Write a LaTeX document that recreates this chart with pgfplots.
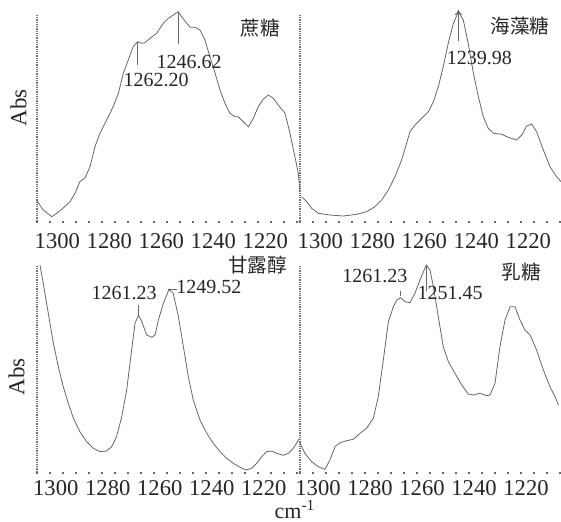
\documentclass[border=0pt]{standalone}
\usepackage{fontspec}
\setmainfont{Liberation Serif}
\newfontfamily\cjk{Noto Sans CJK SC}
\usepackage{pgfplots}
\pgfplotsset{compat=1.18}
\usetikzlibrary{arrows.meta}
\colorlet{txt}{black!85}
\colorlet{crv}{black!60}
\tikzset{
  ann/.style={font=\fontsize{10}{12}\selectfont, text=txt, inner sep=0pt},
  cj/.style={font=\cjk\fontsize{9.8}{12}\selectfont, text=txt, inner sep=0pt},
}
\pgfplotsset{
  ir/.style={
    scale only axis, width=130pt, clip=false,
    x dir=reverse,
    axis x line*=bottom, axis y line*=left,
    x axis line style={draw=none},
    y axis line style={draw=black!55, line width=0.6pt, dash pattern=on 0.45pt off 0.45pt},
    ytick=\empty,
    xtick={1300,1280,1260,1240,1220},
    major tick length=0pt,
    minor tick length=0.8pt,
    tick align=outside,
    minor tick style={draw=black!60, line width=0.8pt},
    xticklabel style={anchor=north west, inner sep=0pt, xshift=-2.5pt, font=\fontsize{11.3}{13}\selectfont, text=txt},
    /pgf/number format/assume math mode=true,
    /pgf/number format/1000 sep={},
    ylabel={Abs},
    ylabel style={font=\fontsize{11.5}{13}\selectfont, text=txt, anchor=center},
    cycle list={{draw=crv, line width=0.5pt, no marks}},
  },
}
\begin{document}
\begin{tikzpicture}
\path[use as bounding box] (0,0) rectangle (280.5pt,260.5pt);

% ---------- top left: sucrose
\begin{axis}[ir, at={(18.5pt,150pt)}, anchor=south west, height=103pt,
  xmin=1200.9, xmax=1300.9, ymin=0, ymax=206,
  minor xtick={1200.9,1205.9,...,1300.9},
  xticklabel style={yshift=-6pt},
  ylabel style={at={(axis description cs:-0.071,0.55)}}]
\addplot coordinates {(1300.9,20) (1298.5,11) (1295.2,4.3) (1293.3,7.7) (1291.4,11.7) (1288.2,19.3) (1286.3,27.7) (1284.4,39.3) (1282.4,43.3) (1280.5,54.3) (1278.6,74.3) (1276.7,87.7) (1274.1,101) (1271.6,114.3) (1269.6,127.7) (1267.7,147.7) (1265.8,161) (1263.9,174.3) (1262.2,179.3) (1260.6,177.7) (1259.4,178.3) (1257.4,182.7) (1254.9,187.7) (1252.3,197.7) (1250.4,202.7) (1248.5,206) (1246.62,209.3) (1245.25,204.3) (1243.3,197.7) (1242.0,193.7) (1240.1,193.7) (1238.2,191) (1236.3,181) (1234.4,164.3) (1232.4,147.7) (1230.5,131) (1228.6,117.7) (1226.7,107.7) (1224.8,104.3) (1223.5,104.3) (1221.6,99.3) (1219.6,94.3) (1217.7,102.7) (1215.8,114.3) (1213.9,121.7) (1211.9,126) (1210.0,122.7) (1208.1,116) (1205.5,107.7) (1203.6,87.7) (1201.7,64.3) (1200.4,47.7) (1199.8,31)};
\draw[crv, line width=0.5pt] (axis cs:1262.2,179.3) -- (axis cs:1262.2,156);
\draw[crv, line width=0.5pt] (axis cs:1246.62,209.3) -- (axis cs:1246.62,177);
\node[ann] at (axis cs:1255.1,141.5) {1262.20};
\node[ann] at (axis cs:1242.4,158.5) {1246.62};
\node[cj] at (axis cs:1215.1,192.5) {蔗糖};
\end{axis}

% ---------- top right: trehalose
\begin{axis}[ir, at={(150pt,150pt)}, anchor=south west, height=103pt,
  xmin=1200.9, xmax=1300.9, ymin=0, ymax=206,
  minor xtick={1200.9,1205.9,...,1300.9},
  xticklabel style={yshift=-6pt},
  ylabel={}]
\addplot coordinates {(1300.3,24.3) (1298.3,19.3) (1296.4,12.7) (1293.9,7.7) (1289.4,6) (1284.2,5) (1279.1,6.7) (1275.3,9.3) (1272.1,14.3) (1269.5,21) (1266.9,31) (1264.4,44.3) (1261.8,61) (1259.9,77.7) (1258.6,89.3) (1256.7,96) (1254.1,102.7) (1251.5,109.3) (1249.6,119.3) (1247.7,134.3) (1245.8,154.3) (1243.9,177.7) (1241.9,197.7) (1239.98,209.3) (1238.1,201) (1236.2,177.7) (1234.2,147.7) (1232.3,124.3) (1230.4,104.3) (1228.5,92.7) (1226.5,87.7) (1223.3,86.7) (1220.8,83.7) (1217.6,81) (1215.6,86) (1213.7,95) (1211.8,97) (1209.9,89.3) (1207.3,71) (1204.75,54.3) (1202.2,44.3) (1200.5,39.3)};
\draw[crv, line width=0.5pt, -{To[length=2.5pt,width=3.5pt]}] (axis cs:1239.98,180) -- (axis cs:1239.98,211);
\node[ann] at (axis cs:1231.9,163.5) {1239.98};
\node[cj] at (axis cs:1216.3,195) {海藻糖};
\end{axis}

% ---------- bottom left: mannitol
\begin{axis}[ir, at={(18.5pt,24.5pt)}, anchor=south west, height=103.5pt,
  xmin=1200.3, xmax=1300.3, ymin=0, ymax=207,
  minor xtick={1200.3,1205.3,...,1300.3},
  xticklabel style={yshift=-4pt},
  ylabel style={at={(axis description cs:-0.079,0.46)}}]
\addplot coordinates {(1299.15,207) (1297.9,188.7) (1296.6,168.7) (1295.3,148.7) (1294.0,128.7) (1292.1,105.3) (1290.2,85.3) (1288.25,68.7) (1286.3,53.7) (1283.8,40.3) (1281.2,30.3) (1278.6,23.7) (1276.1,20.3) (1273.5,21) (1271.6,25.3) (1269.7,35.3) (1267.7,55.3) (1265.8,82) (1263.9,122) (1262.6,148.7) (1261.23,157) (1260.0,150.3) (1258.1,137) (1256.2,134.7) (1254.9,137) (1253.6,152) (1251.7,168.7) (1249.52,182.7) (1247.9,178.7) (1245.9,155.3) (1244.0,125.3) (1242.1,95.3) (1240.2,72) (1237.6,52) (1235.0,38.7) (1232.5,28.7) (1229.9,20.3) (1227.35,13.7) (1224.8,8.7) (1222.2,4.7) (1219.9,2) (1217.7,3.7) (1215.8,8.7) (1213.9,15.3) (1212.0,20.3) (1210.0,21) (1208.1,18.7) (1205.6,16.7) (1203.6,18.7) (1201.7,23.7) (1199.5,33)};
\draw[crv, line width=0.5pt] (axis cs:1261.23,157) -- (axis cs:1261.23,167);
\draw[crv, line width=0.5pt] (axis cs:1249.9,183) -- (axis cs:1246.6,183);
\node[ann] at (axis cs:1266.8,178.5) {1261.23};
\node[ann] at (axis cs:1234.15,184.5) {1249.52};
\node[cj] at (axis cs:1215.5,207) {甘露醇};
\end{axis}

% ---------- bottom right: lactose
\begin{axis}[ir, at={(150pt,24.5pt)}, anchor=south west, height=103.5pt,
  xmin=1200, xmax=1300, ymin=0, ymax=207,
  minor xtick={1200,1205,...,1300},
  xticklabel style={yshift=-4pt},
  ylabel={}]
\addplot coordinates {(1300.0,28.7) (1298.1,18.7) (1295.5,10.3) (1293.0,5.3) (1290.4,2.7) (1288.5,12) (1286.5,25.3) (1284.6,29.3) (1282.05,31.3) (1279.5,32.7) (1276.9,38.7) (1274.4,43.7) (1271.8,53.7) (1269.9,75.3) (1267.95,112) (1266.0,150.3) (1264.1,165.3) (1262.8,172) (1261.23,174.3) (1259.6,170.3) (1257.7,169.3) (1255.8,178.7) (1253.85,192) (1251.45,207) (1250.0,202) (1248.7,185.3) (1246.8,155.3) (1244.9,125.3) (1242.95,110.3) (1240.4,98.7) (1237.8,87) (1235.3,78) (1233.3,77) (1230.8,78.7) (1228.2,76.3) (1226.9,77) (1225.0,88.7) (1223.1,125.3) (1221.15,152) (1219.2,165.3) (1217.3,165.3) (1215.4,152) (1213.5,142) (1211.5,137) (1209.0,122) (1206.4,102) (1203.85,85.3) (1201.9,75.3) (1200.6,67)};
\draw[crv, line width=0.5pt] (axis cs:1261.23,176.5) -- (axis cs:1261.23,181);
\draw[crv, line width=0.5pt] (axis cs:1251.45,207) -- (axis cs:1251.45,181);
\node[ann] at (axis cs:1271.2,195.5) {1261.23};
\node[ann] at (axis cs:1242.3,178.5) {1251.45};
\node[cj] at (axis cs:1214.8,199.5) {乳糖};
\end{axis}

\node[anchor=base, font=\fontsize{11}{13}\selectfont, text=txt, inner sep=0pt] at (147.5pt,1.5pt) {cm\textsuperscript{-1}};
\end{tikzpicture}
\end{document}
